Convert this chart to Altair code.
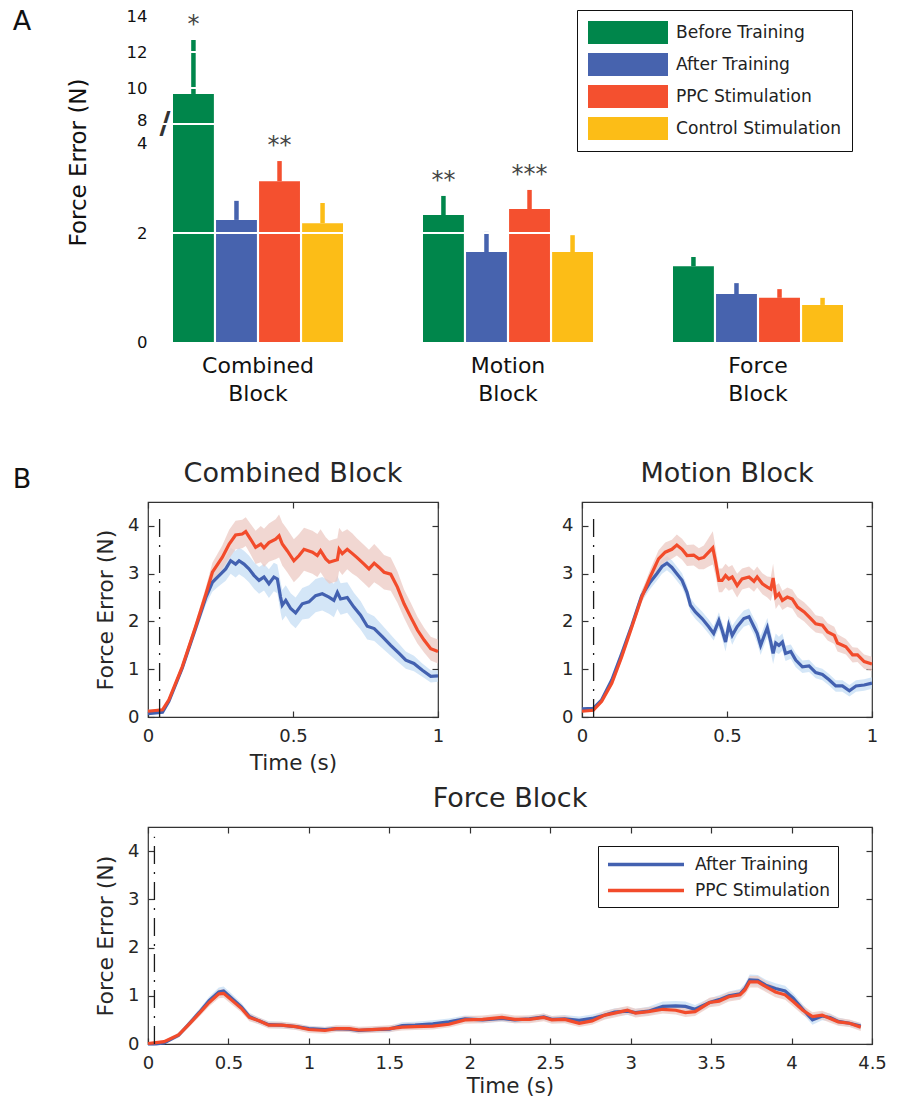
import altair as alt
import pandas as pd

FONT = "DejaVu Sans"
INK = "#262626"

# ---------------- Panel A data ----------------
groups = ["Combined Block", "Motion Block", "Force Block"]
conditions = ["Before Training", "After Training", "PPC Stimulation", "Control Stimulation"]
bar_colors = ["#00864b", "#4763ae", "#f4502f", "#fcbd17"]
combined_mean = [9.67, 2.24, 2.95, 2.18]
combined_sem = [3.00, 0.35, 0.37, 0.37]
motion_mean = [2.33, 1.65, 2.44, 1.65]
motion_sem = [0.35, 0.37, 0.35, 0.31]
force_mean = [1.39, 0.88, 0.81, 0.68]
force_sem = [0.17, 0.20, 0.16, 0.13]
combined_stars = ["*", "", "**", ""]
motion_stars = ["**", "", "***", ""]
force_stars = ["", "", "", ""]
y_tick_values = [0, 2, 4, 8, 10, 12, 14]
white_line_values = [2, 4, 10, 12]

# broken axis: 0-4 linear, then 8-14 compressed
LOW_TOP = 4.0
HIGH_START = 8.0
K = 0.33
label_nudge = {4: -0.35, 8: 0.06}


def brk(v):
    return v if v <= LOW_TOP else LOW_TOP + (v - HIGH_START) * K


def brk_expr(f):
    return f"datum.{f} <= {LOW_TOP} ? datum.{f} : {LOW_TOP} + (datum.{f} - {HIGH_START}) * {K}"


tick_pos = [round(brk(v) + label_nudge.get(v, 0), 3) for v in y_tick_values]
label_expr = ""
for i, (p, v) in enumerate(zip(tick_pos, y_tick_values)):
    if i < len(tick_pos) - 1:
        thr = (p + tick_pos[i + 1]) / 2
        label_expr += f"datum.value < {thr:.3f} ? '{v}' : "
    else:
        label_expr += f"'{v}'"

rows = []
for g, means, sems, stars in [
    (groups[0], combined_mean, combined_sem, combined_stars),
    (groups[1], motion_mean, motion_sem, motion_stars),
    (groups[2], force_mean, force_sem, force_stars),
]:
    for c, m, s, st in zip(conditions, means, sems, stars):
        rows.append({"group": g, "cond": c, "mean": m, "sem": s, "star": st})
bars_df = pd.DataFrame(rows)

# ---------------- Panel B data ----------------
comb_ppc_t = [0, 0.05, 0.072, 0.118, 0.164, 0.2, 0.222, 0.256, 0.28, 0.302, 0.325, 0.337, 0.354, 0.371, 0.389,
              0.4, 0.417, 0.44, 0.452, 0.463, 0.48, 0.503, 0.521, 0.538, 0.567, 0.584, 0.595, 0.613, 0.625,
              0.641, 0.653, 0.659, 0.67, 0.687, 0.705, 0.72, 0.745, 0.762, 0.78, 0.797, 0.814, 0.837, 0.86,
              0.883, 0.906, 0.929, 0.952, 0.975, 1.0]
comb_ppc_v = [0.12, 0.15, 0.36, 1.05, 1.89, 2.58, 3.03, 3.34, 3.62, 3.81, 3.83, 3.88, 3.72, 3.55, 3.62,
              3.54, 3.65, 3.72, 3.79, 3.62, 3.48, 3.27, 3.38, 3.51, 3.45, 3.38, 3.48, 3.31, 3.24,
              3.27, 3.29, 3.51, 3.42, 3.51, 3.42, 3.34, 3.2, 3.1, 3.22, 3.13, 3.03, 2.99, 2.72,
              2.37, 2.09, 1.82, 1.61, 1.43, 1.37]
comb_ppc_s = [0.03, 0.03, 0.05, 0.08, 0.1, 0.15, 0.2, 0.25, 0.3, 0.3, 0.3, 0.3, 0.32, 0.35, 0.38,
              0.4, 0.4, 0.42, 0.45, 0.45, 0.45, 0.45, 0.45, 0.45, 0.45, 0.45, 0.45, 0.45, 0.45,
              0.45, 0.45, 0.45, 0.45, 0.42, 0.42, 0.4, 0.4, 0.4, 0.4, 0.38, 0.36, 0.35, 0.33,
              0.3, 0.3, 0.28, 0.26, 0.25, 0.25]
comb_after_t = [0, 0.05, 0.072, 0.118, 0.164, 0.2, 0.222, 0.245, 0.268, 0.285, 0.302, 0.314, 0.331, 0.348,
                0.366, 0.383, 0.4, 0.417, 0.434, 0.446, 0.457, 0.463, 0.475, 0.492, 0.509, 0.532, 0.555,
                0.578, 0.601, 0.624, 0.641, 0.653, 0.664, 0.687, 0.71, 0.733, 0.756, 0.78, 0.808, 0.837,
                0.866, 0.889, 0.917, 0.946, 0.975, 1.0]
comb_after_v = [0.07, 0.1, 0.33, 1.02, 1.85, 2.51, 2.82, 2.96, 3.1, 3.27, 3.2, 3.27, 3.2, 3.1,
                2.96, 2.86, 2.93, 2.79, 2.93, 2.89, 2.51, 2.34, 2.44, 2.27, 2.18, 2.37, 2.41,
                2.54, 2.58, 2.51, 2.44, 2.61, 2.47, 2.5, 2.3, 2.13, 1.9, 1.85, 1.68, 1.5,
                1.33, 1.19, 1.12, 0.98, 0.85, 0.86]
comb_after_s = [0.02, 0.02, 0.04, 0.07, 0.1, 0.15, 0.2, 0.22, 0.25, 0.27, 0.28, 0.28, 0.28, 0.28,
                0.28, 0.28, 0.28, 0.3, 0.3, 0.3, 0.32, 0.32, 0.32, 0.32, 0.32, 0.33, 0.35,
                0.35, 0.35, 0.35, 0.35, 0.35, 0.33, 0.32, 0.3, 0.3, 0.28, 0.26, 0.24, 0.22,
                0.2, 0.18, 0.16, 0.14, 0.13, 0.12]

mot_ppc_t = [0, 0.039, 0.068, 0.103, 0.137, 0.172, 0.206, 0.235, 0.264, 0.287, 0.31, 0.327, 0.345, 0.362,
             0.385, 0.403, 0.42, 0.437, 0.451, 0.46, 0.472, 0.483, 0.495, 0.506, 0.518, 0.535, 0.552,
             0.576, 0.593, 0.604, 0.622, 0.639, 0.651, 0.659, 0.668, 0.679, 0.691, 0.708, 0.725, 0.743,
             0.766, 0.789, 0.806, 0.829, 0.847, 0.87, 0.881, 0.91, 0.933, 0.95, 0.973, 1.0]
mot_ppc_v = [0.12, 0.14, 0.33, 0.71, 1.26, 1.89, 2.51, 2.93, 3.31, 3.45, 3.51, 3.6, 3.51, 3.38,
             3.39, 3.31, 3.34, 3.45, 3.54, 3.27, 2.86, 2.86, 2.96, 2.89, 2.93, 2.75, 2.89,
             2.93, 2.84, 2.93, 2.79, 2.72, 2.68, 2.91, 2.51, 2.58, 2.44, 2.51, 2.47, 2.3,
             2.2, 2.06, 1.95, 1.92, 1.78, 1.71, 1.55, 1.47, 1.3, 1.3, 1.16, 1.11]
mot_ppc_s = [0.02, 0.02, 0.04, 0.06, 0.08, 0.1, 0.12, 0.15, 0.18, 0.2, 0.2, 0.22, 0.22, 0.22,
             0.22, 0.22, 0.25, 0.3, 0.35, 0.3, 0.25, 0.25, 0.25, 0.25, 0.25, 0.25, 0.22,
             0.22, 0.22, 0.22, 0.22, 0.22, 0.25, 0.3, 0.25, 0.22, 0.2, 0.2, 0.2, 0.2,
             0.2, 0.2, 0.18, 0.18, 0.18, 0.18, 0.18, 0.16, 0.16, 0.15, 0.15, 0.15]
mot_after_t = [0, 0.039, 0.068, 0.103, 0.137, 0.172, 0.206, 0.235, 0.258, 0.276, 0.293, 0.31, 0.327, 0.345,
               0.362, 0.374, 0.391, 0.414, 0.437, 0.454, 0.472, 0.483, 0.495, 0.506, 0.518, 0.535, 0.558,
               0.576, 0.593, 0.604, 0.616, 0.627, 0.639, 0.651, 0.659, 0.668, 0.679, 0.691, 0.702, 0.72,
               0.737, 0.76, 0.783, 0.806, 0.829, 0.852, 0.875, 0.898, 0.922, 0.945, 0.973, 1.0]
mot_after_v = [0.17, 0.18, 0.36, 0.78, 1.33, 1.92, 2.54, 2.82, 3.0, 3.15, 3.22, 3.13, 3.0, 2.86,
               2.61, 2.34, 2.2, 2.06, 1.89, 1.75, 2.02, 1.82, 1.57, 1.92, 1.71, 1.89, 2.06,
               2.1, 1.89, 1.75, 1.5, 1.68, 1.87, 1.57, 1.33, 1.55, 1.5, 1.57, 1.33, 1.37,
               1.19, 1.05, 1.07, 0.93, 0.89, 0.78, 0.65, 0.65, 0.55, 0.65, 0.67, 0.71]
mot_after_s = [0.02, 0.02, 0.04, 0.06, 0.08, 0.1, 0.12, 0.14, 0.15, 0.15, 0.15, 0.15, 0.15, 0.15,
               0.15, 0.15, 0.15, 0.15, 0.15, 0.15, 0.17, 0.17, 0.2, 0.2, 0.2, 0.17, 0.17,
               0.17, 0.17, 0.2, 0.2, 0.2, 0.2, 0.22, 0.22, 0.2, 0.18, 0.18, 0.16, 0.15,
               0.15, 0.13, 0.13, 0.12, 0.12, 0.12, 0.12, 0.12, 0.12, 0.12, 0.12, 0.12]

force_t = [0, 0.05, 0.1, 0.19, 0.25, 0.32, 0.38, 0.44, 0.47, 0.52, 0.58, 0.63, 0.69, 0.75, 0.83,
           0.92, 1.0, 1.1, 1.17, 1.25, 1.31, 1.39, 1.5, 1.58, 1.66, 1.77, 1.87, 1.97, 2.08, 2.2,
           2.28, 2.37, 2.46, 2.51, 2.59, 2.68, 2.76, 2.84, 2.9, 2.98, 3.03, 3.11, 3.2, 3.28, 3.34,
           3.4, 3.49, 3.55, 3.61, 3.68, 3.71, 3.74, 3.79, 3.84, 3.9, 3.96, 4.01, 4.07, 4.13, 4.19,
           4.24, 4.29, 4.36, 4.43]
force_ppc_v = [0.01, 0.03, 0.05, 0.19, 0.39, 0.64, 0.86, 1.04, 1.05, 0.91, 0.74, 0.55, 0.48, 0.39, 0.39,
               0.36, 0.3, 0.28, 0.32, 0.32, 0.29, 0.3, 0.32, 0.35, 0.36, 0.37, 0.41, 0.5, 0.51, 0.55,
               0.51, 0.51, 0.55, 0.5, 0.51, 0.43, 0.48, 0.6, 0.64, 0.7, 0.64, 0.67, 0.72, 0.7, 0.65,
               0.67, 0.86, 0.89, 0.98, 1.02, 1.12, 1.29, 1.29, 1.19, 1.08, 1.02, 0.88, 0.7, 0.57, 0.6,
               0.53, 0.46, 0.43, 0.35]
force_ppc_s = [0.02, 0.02, 0.03, 0.05, 0.06, 0.07, 0.08, 0.09, 0.09, 0.09, 0.08, 0.08, 0.07, 0.07, 0.07,
               0.07, 0.07, 0.07, 0.07, 0.07, 0.07, 0.07, 0.07, 0.07, 0.07, 0.07, 0.07, 0.08, 0.08, 0.08,
               0.08, 0.08, 0.08, 0.08, 0.08, 0.08, 0.08, 0.09, 0.09, 0.09, 0.09, 0.09, 0.09, 0.09, 0.09,
               0.09, 0.1, 0.1, 0.1, 0.1, 0.11, 0.12, 0.12, 0.11, 0.11, 0.1, 0.1, 0.1, 0.09, 0.09,
               0.09, 0.08, 0.08, 0.08]
force_after_v = [0.0, 0.0, 0.02, 0.18, 0.4, 0.66, 0.9, 1.08, 1.1, 0.95, 0.77, 0.57, 0.48, 0.4, 0.39,
                 0.36, 0.32, 0.3, 0.32, 0.31, 0.28, 0.3, 0.31, 0.38, 0.39, 0.42, 0.46, 0.52, 0.5, 0.53,
                 0.5, 0.52, 0.56, 0.51, 0.52, 0.49, 0.53, 0.6, 0.66, 0.68, 0.65, 0.68, 0.78, 0.79, 0.78,
                 0.72, 0.86, 0.92, 1.0, 1.04, 1.15, 1.33, 1.32, 1.22, 1.15, 1.1, 0.95, 0.72, 0.5, 0.58,
                 0.55, 0.47, 0.43, 0.37]
force_after_s = [0.02, 0.02, 0.03, 0.05, 0.06, 0.07, 0.08, 0.09, 0.09, 0.09, 0.08, 0.08, 0.07, 0.07, 0.07,
                 0.06, 0.06, 0.06, 0.06, 0.06, 0.06, 0.06, 0.07, 0.07, 0.07, 0.07, 0.07, 0.07, 0.07, 0.07,
                 0.07, 0.07, 0.07, 0.07, 0.08, 0.08, 0.08, 0.08, 0.08, 0.08, 0.08, 0.09, 0.1, 0.1, 0.1,
                 0.09, 0.09, 0.09, 0.09, 0.1, 0.1, 0.11, 0.11, 0.11, 0.11, 0.11, 0.1, 0.1, 0.1, 0.09,
                 0.08, 0.08, 0.07, 0.07]

line_series = ["After Training", "PPC Stimulation"]
line_colors = ["#4361b0", "#f24b2b"]
band_colors = ["#c6ddf4", "#eccac3"]
onset_t = 0.04
onset_top = 4.3
y_ticks_b = [0, 1, 2, 3, 4]
x_ticks_short = [0, 0.5, 1]
x_ticks_long = [0, 0.5, 1, 1.5, 2, 2.5, 3, 3.5, 4, 4.5]


def make_df(a_t, a_v, a_s, p_t, p_v, p_s):
    r = []
    for t, v, s in zip(a_t, a_v, a_s):
        r.append({"t": t, "v": v, "lo": max(v - s, 0), "hi": v + s,
                  "series": line_series[0], "band": "band " + line_series[0]})
    for t, v, s in zip(p_t, p_v, p_s):
        r.append({"t": t, "v": v, "lo": max(v - s, 0), "hi": v + s,
                  "series": line_series[1], "band": "band " + line_series[1]})
    return pd.DataFrame(r)


# ---------------- Panel A chart ----------------
A_W, A_H = 720, 327
xA = alt.X("group:N", sort=groups,
           scale=alt.Scale(paddingInner=0.32, paddingOuter=0.1),
           axis=alt.Axis(title=None, labelExpr="split(datum.label, ' ')", ticks=False, domain=False,
                         labelAngle=0, labelFontSize=22, labelLineHeight=28, labelPadding=13,
                         labelColor="#111"))
xoA = alt.XOffset("cond:N", sort=conditions, scale=alt.Scale(paddingInner=0.05))
yA_scale = alt.Scale(domain=[0, 6], nice=False)
yA_axis = alt.Axis(values=tick_pos, labelExpr=label_expr, ticks=False, tickSize=0, domain=False,
                   grid=False, labelFontSize=16.5, labelPadding=1, labelColor="#111",
                   title="Force Error (N)", titleFontSize=23, titleFontWeight="normal",
                   titleColor="#111", titleX=-70, titleY=147, titleAngle=270,
                   titleAlign="center", titleBaseline="middle")

baseA = alt.Chart(bars_df).transform_calculate(top="datum.mean + datum.sem").transform_calculate(
    ym=brk_expr("mean"), yt=brk_expr("top"))

legA = alt.Legend(title=None, orient="none", legendX=429, legendY=-5,
                  symbolType="M-3.478,-1H3.478V1H-3.478Z", symbolSize=529,
                  symbolStrokeWidth=0, symbolOpacity=1, symbolOffset=28.5,
                  labelFontSize=17.1, labelColor="#222", labelLimit=400,
                  labelOffset=36.5, rowPadding=9, padding=11,
                  strokeColor="#111", fillColor="white")

bars = baseA.mark_bar().encode(
    x=xA, xOffset=xoA,
    y=alt.Y("ym:Q", scale=yA_scale, axis=yA_axis),
    color=alt.Color("cond:N", sort=conditions, scale=alt.Scale(domain=conditions, range=bar_colors),
                    legend=legA),
)
errs = baseA.mark_rule(strokeWidth=4.5).encode(
    x=xA, xOffset=xoA,
    y=alt.Y("ym:Q", scale=yA_scale, axis=yA_axis), y2="yt:Q",
    color=alt.Color("cond:N", sort=conditions, scale=alt.Scale(domain=conditions, range=bar_colors),
                    legend=legA),
)
stars = baseA.transform_filter("datum.star != ''").mark_text(
    fontSize=24, color="#444", baseline="alphabetic", dy=-8).encode(
    x=xA, xOffset=xoA, y=alt.Y("yt:Q", scale=yA_scale, axis=yA_axis), text="star:N")

brk_df = pd.DataFrame({"mark": ["/"], "v": [LOW_TOP]})
brk_mark = alt.Chart(brk_df).mark_text(fontSize=30, color="#333", fontWeight="bold").encode(
    x=alt.value(17), y=alt.Y("v:Q", scale=yA_scale, axis=yA_axis), text="mark:N")

white_df = pd.DataFrame({"val": white_line_values})
whites = alt.Chart(white_df).transform_calculate(yt=brk_expr("val")).mark_rule(
    color="white", strokeWidth=2).encode(y=alt.Y("yt:Q", scale=yA_scale, axis=yA_axis))

panel_labels = pd.DataFrame({"lab": ["A", "B"], "px": [-126, -126], "py": [7, 465]})
labAB = alt.Chart(panel_labels).mark_text(fontSize=27, color="#111").encode(
    x=alt.X("px:Q", scale=None), y=alt.Y("py:Q", scale=None), text="lab:N")

panelA = alt.layer(bars, errs, brk_mark, whites, stars, labAB).properties(width=A_W, height=A_H)


# ---------------- Panel B charts ----------------
def line_panel(df, title, width, height, xmax, xvals, xtitle, ytitle, legend, xtitle_pad=7):
    xs = alt.Scale(domain=[0, xmax], nice=False)
    ys = alt.Scale(domain=[0, 4.5], nice=False)
    ax_b = dict(orient="bottom", values=xvals, format="~g", offset=-6, tickSize=6, tickColor="#333",
                tickWidth=1.2, domain=False, grid=False, labelFontSize=18, labelColor=INK,
                labelPadding=10, labelFlush=False, titleFontSize=21.5, titleFontWeight="normal",
                titleColor=INK, titlePadding=xtitle_pad)
    ax_l = dict(orient="left", values=y_ticks_b, offset=-6, tickSize=6, tickColor="#333",
                tickWidth=1.2, domain=False, grid=False, labelFontSize=18, labelColor=INK,
                labelPadding=9, titleFontSize=22, titleFontWeight="normal", titleColor=INK,
                titlePadding=10)
    ax_b["title"] = xtitle
    ax_l["title"] = ytitle
    ax_t = alt.Axis(orient="top", values=xvals, offset=-6, tickSize=6, tickColor="#333", tickWidth=1.2,
                    domain=False, grid=False, labels=False, title=None)
    ax_r = alt.Axis(orient="right", values=y_ticks_b, offset=-6, tickSize=6, tickColor="#333",
                    tickWidth=1.2, domain=False, grid=False, labels=False, title=None)

    bands = alt.Chart(df).mark_area(opacity=0.75).encode(
        x=alt.X("t:Q", scale=xs, axis=alt.Axis(**ax_b)),
        y=alt.Y("lo:Q", scale=ys, axis=alt.Axis(**ax_l)),
        y2="hi:Q",
        fill=alt.Fill("band:N", scale=alt.Scale(domain=["band " + s for s in line_series], range=band_colors),
                      legend=None),
    )
    lines = alt.Chart(df).mark_line(strokeWidth=3.2).encode(
        x=alt.X("t:Q", axis=None),
        y=alt.Y("v:Q", axis=None),
        stroke=alt.Stroke("series:N", scale=alt.Scale(domain=line_series, range=line_colors),
                          legend=legend),
    )
    dash_df = pd.DataFrame({"t": [onset_t], "y0": [0], "y1": [onset_top]})
    dash = alt.Chart(dash_df).mark_rule(strokeDash=[18, 8, 2, 8], color="#1a1a1a", strokeWidth=1.3).encode(
        x=alt.X("t:Q", axis=ax_t),
        y=alt.Y("y0:Q", axis=ax_r),
        y2="y1:Q",
    )
    return alt.layer(bands, lines, dash).resolve_axis(x="independent", y="independent").properties(
        width=width, height=height,
        title=alt.TitleParams(title, fontSize=27, fontWeight="normal", color=INK, font=FONT, offset=13),
        view=alt.ViewBackground(stroke="#333", strokeWidth=1.2),
    )


comb = line_panel(make_df(comb_after_t, comb_after_v, comb_after_s, comb_ppc_t, comb_ppc_v, comb_ppc_s),
                  "Combined Block", 290, 215, 1, x_ticks_short, "Time (s)", "Force Error (N)", None)
mot = line_panel(make_df(mot_after_t, mot_after_v, mot_after_s, mot_ppc_t, mot_ppc_v, mot_ppc_s),
                 "Motion Block", 290, 215, 1, x_ticks_short, None, None, None)
legB = alt.Legend(title=None, orient="none", legendX=450, legendY=19, symbolType="M-4.47,0H4.47",
                  symbolSize=289, symbolStrokeWidth=3.5, symbolOffset=29.5,
                  labelFontSize=17, labelColor="#222",
                  labelLimit=400, labelOffset=38.5, rowPadding=7, padding=8, strokeColor="#111",
                  fillColor="white")
force = line_panel(make_df(force_t, force_after_v, force_after_s, force_t, force_ppc_v, force_ppc_s),
                   "Force Block", 724, 217, 4.5, x_ticks_long, "Time (s)", "Force Error (N)", legB,
                   xtitle_pad=3)

top_row = alt.hconcat(comb, mot, spacing=144, bounds="flush").resolve_scale(
    stroke="independent", fill="independent").resolve_legend(stroke="independent", fill="independent")
# the flush top row counts as zero height, so the spacing spans the row's 215 px plus the 110 px gap
lower = alt.vconcat(top_row, force, spacing=325, bounds="flush").resolve_scale(
    stroke="independent", fill="independent").resolve_legend(stroke="independent", fill="independent")
chart = alt.vconcat(panelA, lower, spacing=160, bounds="flush").resolve_scale(
    color="independent", stroke="independent", fill="independent").resolve_legend(
    color="independent", stroke="independent", fill="independent")

chart = chart.properties(padding={"left": 12, "top": 8, "right": 5, "bottom": 5}).configure(
    font=FONT, background="white").configure_view(stroke=None)

chart.save("out.html", embed_options={"renderer": "svg", "actions": False})
